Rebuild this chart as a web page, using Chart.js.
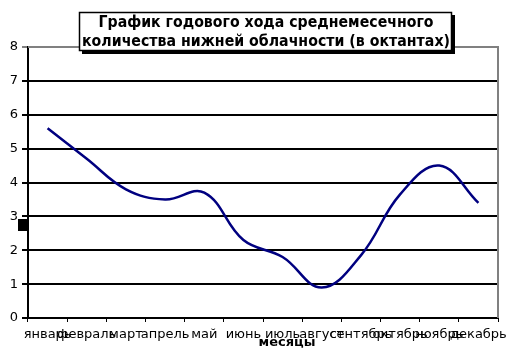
<!DOCTYPE html>
<html><head><meta charset="utf-8">
<script src="https://cdn.jsdelivr.net/npm/chart.js@4/dist/chart.umd.min.js"></script>
<style>html,body{margin:0;padding:0;background:#fff}#w{width:518px;height:357px;position:relative}</style>
</head><body><div id="w"><canvas id="c" width="518" height="357"></canvas></div>
<script>
const months = ['январь','февраль','март','апрель','май','июнь','июль','август','сентябрь','октябрь','ноябрь','декабрь'];
const cloudiness = [5.6, 4.7, 3.8, 3.5, 3.7, 2.3, 1.8, 0.9, 1.85, 3.65, 4.5, 3.4];
const yTicks = [0,1,2,3,4,5,6,7,8];
const titleLines = ['График годового хода среднемесечного','количества нижней облачности (в октантах)'];
const xTitle = 'месяцы';

const deco = {
  id:'deco',
  afterDraw(chart){
    const ctx = chart.ctx, a = chart.chartArea;
    ctx.save();
    ctx.strokeStyle = '#808080'; ctx.lineWidth = 2;
    ctx.beginPath(); ctx.moveTo(a.left, a.top); ctx.lineTo(a.right, a.top); ctx.lineTo(a.right, a.bottom); ctx.stroke();
    ctx.fillStyle = '#000'; ctx.fillRect(18, 219, 9, 12);
    ctx.font = 'bold 13px "DejaVu Sans"'; ctx.textAlign='center'; ctx.textBaseline='middle';
    ctx.fillText(xTitle, 287, 343);
    const bx=79, by=12, bw=373, bh=39;
    ctx.fillStyle='#000'; ctx.fillRect(bx+3, by+3, bw, bh);
    ctx.fillStyle='#fff'; ctx.fillRect(bx, by, bw, bh);
    ctx.strokeStyle='#000'; ctx.lineWidth=1.5; ctx.strokeRect(bx+0.5, by+0.5, bw-1, bh-1);
    ctx.fillStyle='#000';
    ctx.font = 'bold 15px "DejaVu Sans"';
    const targets=[335,368];
    titleLines.forEach((t,i)=>{
      const w = ctx.measureText(t).width;
      const sx = targets[i]/w;
      ctx.save();
      ctx.translate(266, 23 + i*19);
      ctx.scale(sx,1);
      ctx.fillText(t,0,0);
      ctx.restore();
    });
    ctx.restore();
  }
};

new Chart(document.getElementById('c'), {
  type:'line',
  data:{labels:months, datasets:[{data:cloudiness, borderColor:'#000080', borderWidth:2.5, pointRadius:0, tension:0.4, fill:false}]},
  options:{
    responsive:false, animation:false, devicePixelRatio:1,
    layout:{padding:{top:47, right:20, left:0, bottom:0}},
    plugins:{legend:{display:false}, tooltip:{enabled:false}, title:{display:false}},
    scales:{
      x:{
        offset:true,
        grid:{display:true, drawOnChartArea:false, drawTicks:true, tickLength:4, color:'#000', offset:true},
        border:{display:true, color:'#000', width:2},
        ticks:{autoSkip:false, maxRotation:0, minRotation:0, color:'#000', font:{family:'DejaVu Sans', size:13}, padding:5},
        afterFit(s){ s.height = 39; }
      },
      y:{
        min:0, max:8,
        afterBuildTicks(s){ s.ticks = yTicks.map(v=>({value:v})); },
        grid:{color:(c)=> c.tick && c.tick.value===8 ? '#808080' : '#000', lineWidth:2, tickLength:6, drawTicks:true},
        border:{display:true, color:'#000', width:2},
        ticks:{color:'#000', font:{family:'DejaVu Sans', size:13}, padding:4},
        afterFit(s){ s.width = 28; }
      }
    }
  },
  plugins:[deco]
});
</script></body></html>
